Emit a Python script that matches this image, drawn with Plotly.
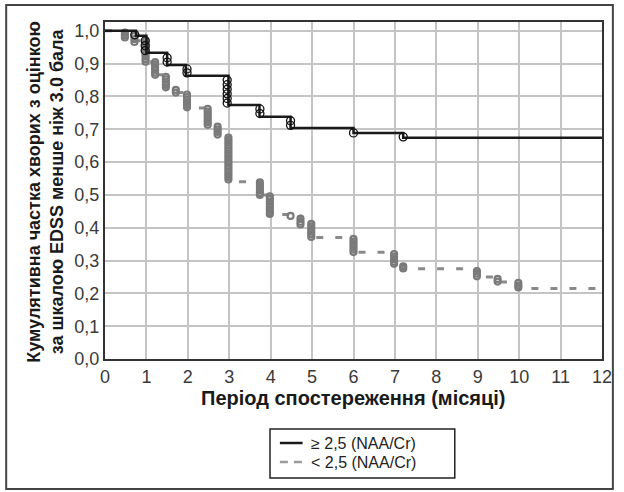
import plotly.graph_objects as go

# ---- data ----
# group ">= 2,5 (NAA/Cr)": step function
months_hi = [0, 0.75, 1.0, 1.5, 1.95, 2.98, 3.73, 4.48, 6.0, 7.2, 12]
surv_hi = [1.0, 0.985, 0.933, 0.896, 0.863, 0.774, 0.738, 0.704, 0.689, 0.674, 0.674]
# censored observations, group >= 2,5
cens_hi_x = [0.72, 0.97, 0.97, 0.97, 1.5, 1.5, 1.98, 1.98,
             2.95, 2.95, 2.95, 2.95, 2.95, 2.95, 3.74, 3.74, 4.48, 4.48, 6.0, 7.2]
cens_hi_y = [0.988, 0.970, 0.955, 0.940, 0.918, 0.905, 0.884, 0.872,
             0.850, 0.836, 0.822, 0.808, 0.794, 0.780, 0.762, 0.748, 0.726, 0.712, 0.689, 0.677]

# group "< 2,5 (NAA/Cr)": step function
months_lo = [0, 0.48, 0.71, 1.0, 1.21, 1.47, 1.71, 1.98, 2.48, 2.72, 2.98, 3.74, 3.98,
             4.48, 4.72, 4.98, 6.0, 6.98, 7.2, 8.98, 9.48, 9.98, 12]
surv_lo = [1.0, 0.985, 0.97, 0.905, 0.866, 0.825, 0.812, 0.765, 0.712, 0.68, 0.54, 0.50, 0.44,
           0.435, 0.41, 0.37, 0.325, 0.285, 0.275, 0.25, 0.235, 0.215, 0.215]
# censored observations, group < 2,5 (time -> stacked marks)
cens_lo_x = [0.48, 0.71, 0.98, 1.21, 1.47, 1.71, 1.98, 2.48, 2.72, 2.98, 3.74, 3.98,
             4.48, 4.72, 4.98, 6.0, 6.98, 7.2, 8.98, 9.48, 9.98]
cens_lo_y = [
    [0.995, 0.987, 0.980],
    [0.985, 0.975, 0.966],
    [0.970, 0.962, 0.954, 0.946, 0.938, 0.930, 0.922, 0.914, 0.906],
    [0.905, 0.897, 0.889, 0.881, 0.873, 0.866],
    [0.860, 0.852, 0.844, 0.836, 0.828],
    [0.820, 0.812],
    [0.806, 0.798, 0.790, 0.782, 0.774, 0.767],
    [0.762, 0.754, 0.746, 0.738, 0.730, 0.722, 0.714],
    [0.708, 0.700, 0.692, 0.684],
    [0.675, 0.667, 0.659, 0.651, 0.643, 0.635, 0.627, 0.619, 0.611, 0.603, 0.595,
     0.587, 0.579, 0.571, 0.563, 0.555, 0.547],
    [0.538, 0.530, 0.522, 0.514, 0.506, 0.500],
    [0.496, 0.488, 0.480, 0.472, 0.464, 0.456, 0.448, 0.442],
    [0.436],
    [0.428, 0.418, 0.410],
    [0.412, 0.404, 0.396, 0.388, 0.380, 0.372],
    [0.366, 0.358, 0.350, 0.342, 0.334, 0.326],
    [0.320, 0.312, 0.304, 0.296, 0.290],
    [0.282, 0.276],
    [0.268, 0.260, 0.252],
    [0.244, 0.236],
    [0.232, 0.224, 0.218],
]

x_ticks = list(range(0, 13))
y_ticks = [0.0, 0.1, 0.2, 0.3, 0.4, 0.5, 0.6, 0.7, 0.8, 0.9, 1.0]
ref_level = 0.4

label_hi = "≥ 2,5 (NAA/Cr)"
label_lo = "< 2,5 (NAA/Cr)"
x_title = "Період спостереження (місяці)"
y_title = "Кумулятивна частка хворих з оцінкою<br>за шкалою EDSS менше ніж 3.0 бала"

FONT = "Liberation Sans, Arial, sans-serif"
GREY = "#7a7a7a"
GREY_LINE = "#8a8a8a"
BLACK = "#1a1a1a"

fig = go.Figure()

# flatten grey censor marks
lo_x, lo_y = [], []
for xv, ys in zip(cens_lo_x, cens_lo_y):
    for yv in ys:
        lo_x.append(xv)
        lo_y.append(yv)

fig.add_trace(go.Scatter(
    x=months_lo, y=surv_lo, mode="lines", line_shape="hv",
    line=dict(color=GREY_LINE, width=3, dash="7px,12px"),
    name=label_lo, showlegend=False, hoverinfo="skip"))
fig.add_trace(go.Scatter(
    x=lo_x, y=lo_y, mode="markers",
    marker=dict(symbol="circle-open", size=6, color=GREY, line=dict(width=2.2, color=GREY)),
    showlegend=False, hoverinfo="skip"))

fig.add_trace(go.Scatter(
    x=months_hi, y=surv_hi, mode="lines", line_shape="hv",
    line=dict(color=BLACK, width=2.5),
    name=label_hi, showlegend=False))
fig.add_trace(go.Scatter(
    x=cens_hi_x, y=cens_hi_y, mode="markers",
    marker=dict(symbol="circle-open", size=8, color="#111111", line=dict(width=1.3, color="#111111")),
    showlegend=False, hoverinfo="skip"))

# reference line at 0.4
fig.add_shape(type="line", xref="x", yref="y", x0=0, x1=12, y0=ref_level, y1=ref_level,
              line=dict(color="#111111", width=1.5), layer="below")


# pixel -> paper helpers (plot area: x 105..608, y 22..359)
def px_x(p):
    return (p - 105) / 503.0


def px_y(p):
    return (359 - p) / 337.0


# outer frame
fig.add_shape(type="rect", xref="paper", yref="paper",
              x0=px_x(5), x1=px_x(619), y0=px_y(489), y1=px_y(5),
              line=dict(color="#444444", width=2))

# legend (box, samples, labels)
fig.add_shape(type="rect", xref="paper", yref="paper",
              x0=px_x(272), x1=px_x(459), y0=px_y(478), y1=px_y(429),
              line=dict(color="#222222", width=1.5))
fig.add_shape(type="line", xref="paper", yref="paper",
              x0=px_x(282), x1=px_x(305), y0=px_y(443), y1=px_y(443),
              line=dict(color=BLACK, width=2.5))
fig.add_shape(type="line", xref="paper", yref="paper",
              x0=px_x(282), x1=px_x(306), y0=px_y(462), y1=px_y(462),
              line=dict(color="#9a9a9a", width=2.5, dash="8px,6px"))
for lbl, yy in ((label_hi, 443), (label_lo, 462)):
    fig.add_annotation(text=lbl, xref="paper", yref="paper", x=px_x(311), y=px_y(yy),
                       xanchor="left", yanchor="middle", showarrow=False,
                       font=dict(family=FONT, size=16, color="#222222"))

fig.add_annotation(text="<b>" + y_title + "</b>", xref="paper", yref="paper",
                   x=px_x(44), y=px_y(192), textangle=-90, showarrow=False,
                   xanchor="center", yanchor="middle",
                   font=dict(family=FONT, size=18, color="#1a1a1a"))
fig.add_annotation(text="<b>" + x_title + "</b>", xref="paper", yref="paper",
                   x=px_x(357), y=px_y(398), showarrow=False,
                   xanchor="center", yanchor="middle",
                   font=dict(family=FONT, size=20, color="#1a1a1a"))

fig.update_layout(
    width=624, height=492,
    margin=dict(l=105, r=16, t=22, b=133),
    paper_bgcolor="white", plot_bgcolor="white",
    separators=", ",
    font=dict(family=FONT, size=18, color="#333333"),
    showlegend=False,
    xaxis=dict(range=[0, 12], tickvals=x_ticks, showgrid=True, gridcolor="#c4c4c4", gridwidth=1.5,
               zeroline=False, showline=True, linecolor="#333333", linewidth=2, mirror=True,
               ticks="", tickfont=dict(size=18, color="#3a3a3a")),
    yaxis=dict(range=[0, 1.027], tickvals=y_ticks, tickformat=".1f", showgrid=True,
               gridcolor="#c4c4c4", gridwidth=1.5,
               zeroline=False, showline=True, linecolor="#333333", linewidth=2, mirror=True,
               ticks="", tickfont=dict(size=18, color="#3a3a3a")),
)

fig.write_html("out.html")
